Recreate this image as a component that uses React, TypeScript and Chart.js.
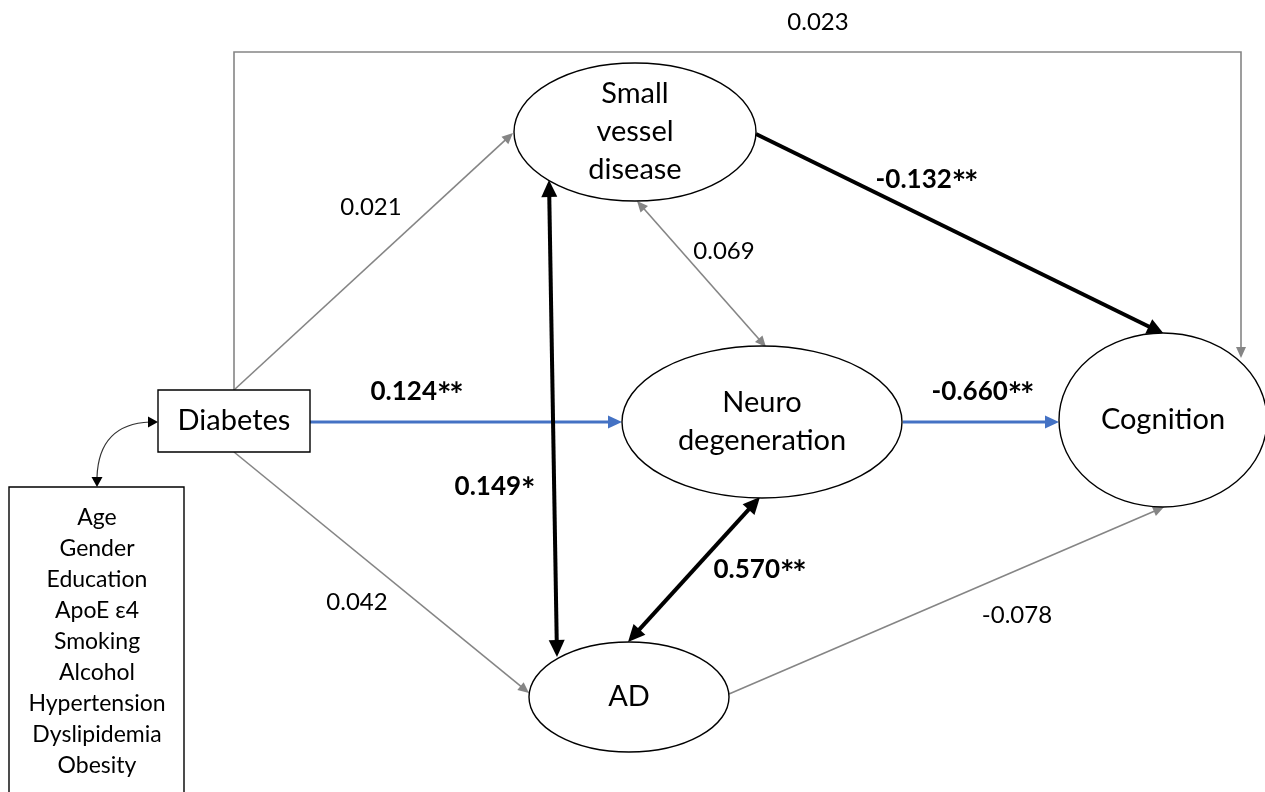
import React, { useEffect, useRef } from "react";
import { Chart, registerables } from "chart.js";

Chart.register(...registerables);

// ---- data ----
const nodeNames = ["Diabetes", "Small\nvessel\ndisease", "Neuro\ndegeneration", "Cognition", "AD"];
const nodeX = [234, 635, 762, 1163, 629];
const nodeY = [421, 132, 422, 420, 697];
const nodeHalfW = [76, 121, 140, 104, 100];
const nodeHalfH = [31, 69, 76, 87, 55];
const nodeIsBox = [true, false, false, false, false];

const covariates = ["Age", "Gender", "Education", "ApoE ε4", "Smoking", "Alcohol", "Hypertension", "Dyslipidemia", "Obesity"];

// path coefficients
const edgeLabels = ["0.023", "0.021", "0.042", "0.124**", "-0.660**", "-0.132**", "0.149*", "0.069", "0.570**", "-0.078"];
const edgeBold = [false, false, false, true, true, true, true, false, true, false];
const edgeKind = ["gray", "gray", "gray", "blue", "blue", "black", "black", "gray", "black", "gray"];
const edgeBoth = [false, false, false, false, false, false, true, true, true, false];
// polyline points (x,y pairs) in diagram units
const edgePaths: number[][] = [
  [234, 390, 234, 52, 1241, 52, 1241, 358],
  [234, 390, 513, 133],
  [234, 452, 529, 693],
  [310, 422, 622, 422],
  [903, 422, 1059, 422],
  [756, 134, 1164, 334],
  [549, 180, 557, 657],
  [637, 201, 766, 347],
  [760, 497, 628, 642],
  [729, 694, 1164, 507],
];
const labelX = [818, 371, 357, 416, 982, 926, 494, 724, 759, 1017];
const labelY = [22, 207, 602, 392, 392, 180, 487, 251, 570, 615];

const FONT = "Lato, 'Open Sans', sans-serif";

export default function App() {
  const ref = useRef<HTMLCanvasElement | null>(null);

  useEffect(() => {
    document.body.style.margin = "0";
    const canvas = ref.current;
    if (!canvas) return;

    const diagram = {
      id: "diagram",
      beforeDraw(chart: any) {
        const c = chart.ctx;
        c.save();
        c.fillStyle = "#ffffff";
        c.fillRect(0, 0, chart.width, chart.height);
        c.restore();
      },
      afterDatasetsDraw(chart: any) {
        const c: CanvasRenderingContext2D = chart.ctx;
        const sx = (v: number) => chart.scales.x.getPixelForValue(v);
        const sy = (v: number) => chart.scales.y.getPixelForValue(v);

        const head = (tx: number, ty: number, fx: number, fy: number, len: number, w: number, color: string) => {
          const a = Math.atan2(ty - fy, tx - fx);
          c.beginPath();
          c.moveTo(tx, ty);
          c.lineTo(tx - len * Math.cos(a) + (w / 2) * Math.sin(a), ty - len * Math.sin(a) - (w / 2) * Math.cos(a));
          c.lineTo(tx - len * Math.cos(a) - (w / 2) * Math.sin(a), ty - len * Math.sin(a) + (w / 2) * Math.cos(a));
          c.closePath();
          c.fillStyle = color;
          c.fill();
        };

        const styles: Record<string, { color: string; width: number; len: number; hw: number }> = {
          gray: { color: "#858585", width: 1.6, len: 11, hw: 10 },
          blue: { color: "#4472c4", width: 3.2, len: 14, hw: 13 },
          black: { color: "#000000", width: 4, len: 17, hw: 16 },
        };

        const order = [0, 1, 2, 7, 9, 3, 4, 5, 6, 8];
        order.forEach((i) => {
          const st = styles[edgeKind[i]];
          const p = edgePaths[i].map((v, k) => (k % 2 === 0 ? sx(v) : sy(v)));
          const n = p.length / 2;
          const pts: number[][] = [];
          for (let k = 0; k < n; k++) pts.push([p[2 * k], p[2 * k + 1]]);
          const shorten = (a: number[], b: number[], d: number) => {
            const L = Math.hypot(b[0] - a[0], b[1] - a[1]);
            return [b[0] - ((b[0] - a[0]) / L) * d, b[1] - ((b[1] - a[1]) / L) * d];
          };
          const draw = pts.map((q) => q.slice());
          draw[n - 1] = shorten(pts[n - 2], pts[n - 1], st.len * 0.8);
          if (edgeBoth[i]) draw[0] = shorten(pts[1], pts[0], st.len * 0.8);
          c.save();
          c.strokeStyle = st.color;
          c.lineWidth = st.width;
          c.lineJoin = "miter";
          c.beginPath();
          c.moveTo(draw[0][0], draw[0][1]);
          for (let k = 1; k < n; k++) c.lineTo(draw[k][0], draw[k][1]);
          c.stroke();
          head(pts[n - 1][0], pts[n - 1][1], pts[n - 2][0], pts[n - 2][1], st.len, st.hw, st.color);
          if (edgeBoth[i]) head(pts[0][0], pts[0][1], pts[1][0], pts[1][1], st.len, st.hw, st.color);
          c.restore();
        });

        // curved double arrow Diabetes <-> covariates
        c.save();
        c.strokeStyle = "#333333";
        c.lineWidth = 1.2;
        c.beginPath();
        c.moveTo(sx(97), sy(477));
        c.quadraticCurveTo(sx(99), sy(424), sx(150), sy(422));
        c.stroke();
        head(sx(158), sy(422), sx(148), sy(422), 10, 11, "#000000");
        head(sx(97), sy(487), sx(97), sy(476), 10, 11, "#000000");
        c.restore();

        // nodes
        nodeNames.forEach((name, i) => {
          const x = sx(nodeX[i]);
          const y = sy(nodeY[i]);
          const hw = sx(nodeX[i] + nodeHalfW[i]) - x;
          const hh = sy(nodeY[i] + nodeHalfH[i]) - y;
          c.save();
          c.fillStyle = "#ffffff";
          c.strokeStyle = "#000000";
          c.lineWidth = 1.4;
          c.beginPath();
          if (nodeIsBox[i]) c.rect(x - hw, y - hh, hw * 2, hh * 2);
          else c.ellipse(x, y, hw, hh, 0, 0, Math.PI * 2);
          c.fill();
          c.stroke();
          c.fillStyle = "#000000";
          c.font = `29px ${FONT}`;
          c.textAlign = "center";
          c.textBaseline = "middle";
          const lines = name.split("\n");
          const lh = 38;
          lines.forEach((ln, k) => {
            c.fillText(ln, x, y + (k - (lines.length - 1) / 2) * lh);
          });
          c.restore();
        });

        // covariates box
        c.save();
        c.fillStyle = "#ffffff";
        c.strokeStyle = "#000000";
        c.lineWidth = 1.4;
        c.beginPath();
        c.rect(sx(9), sy(487), sx(184) - sx(9), sy(800) - sy(487));
        c.fill();
        c.stroke();
        c.fillStyle = "#000000";
        c.font = `23px ${FONT}`;
        c.textAlign = "center";
        c.textBaseline = "middle";
        covariates.forEach((t, k) => c.fillText(t, sx(97), sy(518 + k * 31)));
        c.restore();

        // edge labels (asterisks drawn slightly larger, as in the original)
        edgeLabels.forEach((t, i) => {
          c.save();
          c.fillStyle = "#000000";
          c.textBaseline = "middle";
          if (!edgeBold[i]) {
            c.font = `24px ${FONT}`;
            c.textAlign = "center";
            c.fillText(t, sx(labelX[i]), sy(labelY[i]));
          } else {
            const m = t.match(/^([^*]*)(\**)$/);
            const num = m ? m[1] : t;
            const stars = m ? m[2] : "";
            const numFont = `bold 26px ${FONT}`;
            const starFont = `bold 34px ${FONT}`;
            c.font = numFont;
            const wn = c.measureText(num).width;
            c.font = starFont;
            const ws = stars.length * c.measureText("*").width * 0.85;
            const x0 = sx(labelX[i]) - (wn + ws) / 2;
            const y0 = sy(labelY[i]);
            c.textAlign = "left";
            c.font = numFont;
            c.fillText(num, x0, y0);
            c.font = starFont;
            const sw = c.measureText("*").width * 0.85;
            for (let k = 0; k < stars.length; k++) c.fillText("*", x0 + wn + k * sw, y0 + 4);
          }
          c.restore();
        });
      },
    };

    const chart = new Chart(canvas, {
      type: "scatter",
      data: {
        datasets: [
          {
            data: nodeX.map((x, i) => ({ x, y: nodeY[i] })),
            pointRadius: 0,
            showLine: false,
          },
        ],
      },
      options: {
        animation: false,
        responsive: true,
        maintainAspectRatio: false,
        layout: { padding: 0 },
        plugins: { legend: { display: false }, tooltip: { enabled: false } },
        scales: {
          x: { type: "linear", min: 0, max: 1265, display: false },
          y: { type: "linear", min: 0, max: 792, reverse: true, display: false },
        },
      },
      plugins: [diagram],
    });
    return () => chart.destroy();
  }, []);

  return (
    <div style={{ position: "fixed", left: 0, top: 0, width: 1265, height: 792, background: "#fff" }}>
      <canvas ref={ref} />
    </div>
  );
}
